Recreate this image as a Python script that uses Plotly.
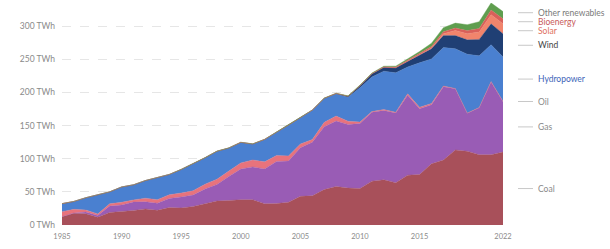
import plotly.graph_objects as go

years = list(range(1985, 2023))

coal = [12.4, 17.6, 17.0, 11.6, 18.9, 20.1, 22.0, 24.3, 22.2, 26.3, 25.8, 27.9, 32.2, 36.3,
        37.0, 38.2, 38.2, 32.1, 32.3, 34.4, 43.2, 44.0, 53.4, 58.1, 55.7, 55.0, 66.2, 68.1,
        63.9, 75.2, 76.2, 92.3, 98.0, 113.2, 111.3, 106.0, 106.0, 110.0]
gas = [0.06, 0.5, 2.5, 2.6, 9.6, 10.2, 12.6, 10.8, 10.8, 13.8, 16.6, 17.2, 22.2, 24.8,
       36.3, 46.2, 49.5, 52.5, 63.5, 62.2, 73.4, 80.7, 95.0, 98.7, 96.1, 98.1, 104.0, 104.5,
       105.1, 120.6, 99.2, 89.2, 110.5, 92.5, 57.3, 70.9, 109.8, 76.0]
oil = [7.7, 5.5, 3.0, 2.5, 3.5, 3.9, 3.3, 5.3, 5.2, 5.5, 5.8, 6.5, 7.2, 7.9, 8.1, 9.3,
       10.4, 10.7, 9.2, 7.7, 5.5, 4.3, 6.5, 7.5, 4.8, 2.2, 0.9, 1.6, 1.2, 2.1, 2.2, 1.9,
       1.2, 0.3, 0.3, 0.3, 0.6, 0.7]
hydro = [12.0, 11.9, 18.6, 29.0, 18.0, 23.1, 22.7, 26.6, 33.9, 30.6, 35.5, 40.5, 39.8, 42.2,
         34.7, 30.9, 24.0, 33.7, 35.3, 46.1, 39.6, 44.2, 35.9, 33.3, 36.0, 51.8, 52.3, 57.9,
         59.4, 40.6, 67.1, 67.2, 58.2, 59.9, 88.8, 78.1, 55.7, 67.0]
wind = [0, 0, 0, 0, 0, 0, 0, 0, 0, 0, 0, 0, 0, 0.01, 0.02, 0.03, 0.06, 0.05, 0.06, 0.06,
        0.06, 0.13, 0.36, 0.85, 1.5, 2.9, 4.7, 5.9, 7.6, 8.5, 11.7, 15.5, 17.9, 19.9, 21.7,
        24.8, 31.4, 35.0]
solar = [0] * 29 + [0.02, 0.2, 1.0, 2.9, 7.8, 9.3, 11.0, 13.9, 15.0]
bio = [0.1, 0.1, 0.1, 0.1, 0.1, 0.1, 0.1, 0.1, 0.1, 0.1, 0.2, 0.2, 0.2, 0.2, 0.2, 0.2,
       0.2, 0.2, 0.2, 0.1, 0.1, 0.15, 0.2, 0.22, 0.34, 0.46, 0.47, 0.72, 1.17, 1.43, 1.75,
       2.37, 2.97, 3.62, 4.62, 5.6, 7.0, 7.5]
other_ren = [0.06, 0.04, 0.06, 0.07, 0.06, 0.08, 0.08, 0.07, 0.08, 0.08, 0.09, 0.08, 0.08,
             0.09, 0.08, 0.08, 0.09, 0.1, 0.09, 0.09, 0.09, 0.09, 0.16, 0.16, 0.44, 0.67,
             0.69, 0.9, 1.36, 2.36, 3.42, 4.82, 6.13, 7.43, 8.95, 10.03, 10.77, 10.9]

series_names = ["Coal", "Gas", "Oil", "Hydropower", "Wind", "Solar", "Bioenergy", "Other renewables"]
series_values = [coal, gas, oil, hydro, wind, solar, bio, other_ren]
series_colors = ["#a8505a", "#995cb5", "#e8737c", "#4a80d0", "#203f74", "#f1846c", "#d9605a", "#5f9e4f"]
label_colors = ["#8a8a8a", "#8a8a8a", "#8a8a8a", "#3d64b8", "#444444", "#e0705e", "#c85a5a", "#7a7a7a"]

x_ticks = [1985, 1990, 1995, 2000, 2005, 2010, 2015, 2022]
y_ticks = [0, 50, 100, 150, 200, 250, 300]
y_tick_text = [f"{v} TWh" for v in y_ticks]

fig = go.Figure()
for name, vals, col in zip(series_names, series_values, series_colors):
    fig.add_trace(go.Scatter(
        x=years, y=vals, name=name, mode="lines", stackgroup="one",
        line=dict(width=0.4, color=col), fillcolor=col, hoverinfo="skip",
    ))

W, H = 610, 249
ml, mr, mt, mb = 62, 107, 3, 24
y_max = 335
px_per = (H - mt - mb) / y_max

# label positions: midpoints of last-year bands, spread apart
mids = []
base = 0
for vals in series_values:
    v = vals[-1]
    mids.append(base + v / 2)
    base += v
pos = list(mids)
gap = 9.0 / px_per
for _ in range(300):
    for i in range(len(pos) - 1):
        d = pos[i + 1] - pos[i]
        if d < gap:
            shift = (gap - d) / 2
            pos[i] -= shift
            pos[i + 1] += shift

plot_w = W - ml - mr
def px_to_paper(px):
    return (px - ml) / plot_w

for name, p, lc in zip(series_names, pos, label_colors):
    fig.add_shape(type="line", xref="paper", yref="y",
                  x0=px_to_paper(518), x1=px_to_paper(533), y0=p, y1=p,
                  line=dict(color="#c8c8c8", width=1))
    fig.add_annotation(xref="paper", yref="y", x=px_to_paper(536), y=p, text=name,
                       showarrow=False, xanchor="left", yanchor="middle",
                       font=dict(size=8.5, color=lc, family="Lato, Arial, sans-serif"))

fig.update_layout(
    width=W, height=H,
    margin=dict(l=ml, r=mr, t=mt, b=mb),
    paper_bgcolor="white", plot_bgcolor="white",
    showlegend=False,
    hovermode=False,
    font=dict(family="Lato, Arial, sans-serif", color="#8a8a8a", size=8),
    xaxis=dict(range=[1985, 2022], tickvals=x_ticks, ticktext=[str(v) for v in x_ticks],
               showgrid=False, zeroline=False, showline=False, ticks="",
               ticklabelstandoff=5,
               tickfont=dict(size=7.5, color="#8a8a8a")),
    yaxis=dict(range=[0, y_max], tickvals=y_ticks, ticktext=y_tick_text,
               showgrid=True, gridcolor="#e6e6e6", griddash="dash", gridwidth=1,
               zeroline=False, showline=False, ticks="",
               ticklabelstandoff=6,
               tickfont=dict(size=8.5, color="#8a8a8a")),
)

fig.write_html("out.html",
               config={"displayModeBar": False, "staticPlot": True},
               post_script="document.body.style.margin='0';document.body.style.padding='0';document.body.style.overflow='hidden';")
